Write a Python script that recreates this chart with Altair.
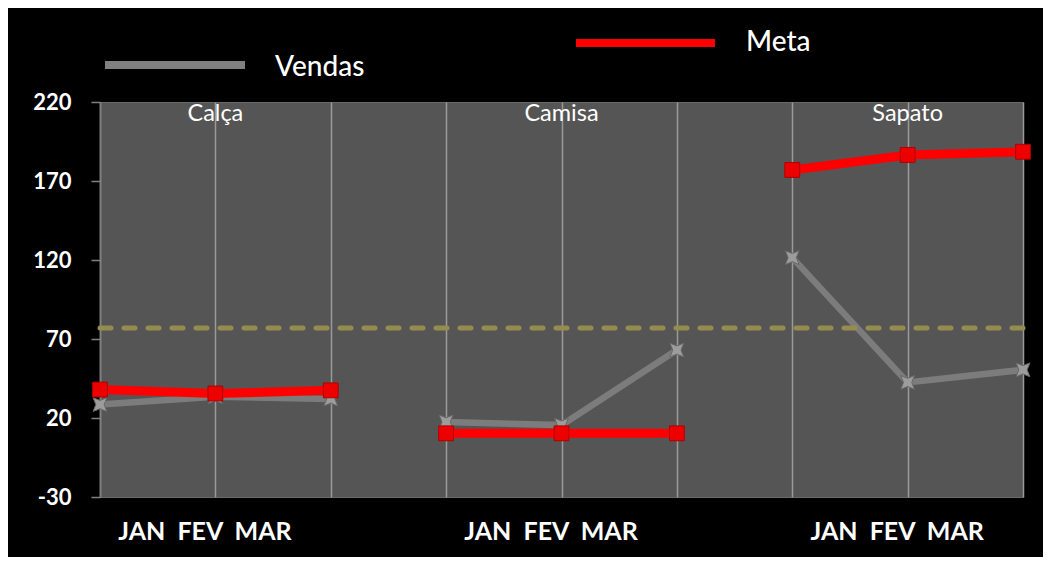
import altair as alt
import pandas as pd

produtos = ["Calça", "Camisa", "Sapato"]
meses = ["JAN", "FEV", "MAR"]
vendas = [28.5, 33.5, 32, 17.5, 15.5, 63, 121.5, 42.5, 50.5]
meta = [38, 35.5, 37.5, 10.3, 10.3, 10.3, 177, 186.5, 188.5]
referencia = 77
y_ticks = [-30, 20, 70, 120, 170, 220]

rows = []
ordem = []
for i, p in enumerate(produtos):
    for j, m in enumerate(meses):
        k = i * 3 + j
        chave = f"{p} {m}"
        ordem.append(chave)
        rows.append(dict(produto=p, mes=m, chave=chave, serie="Vendas", valor=vendas[k]))
        rows.append(dict(produto=p, mes=m, chave=chave, serie="Meta", valor=meta[k]))
df = pd.DataFrame(rows)
df_rot = pd.DataFrame({"produto": produtos, "chave": [f"{p} FEV" for p in produtos]})
df_ref = pd.DataFrame({"ref": [referencia]})

FONT = "Lato"
NB = "\u00a0"
rotulo_meses = (NB + " ").join(meses)

x = alt.X(
    "chave:O",
    sort=ordem,
    scale=alt.Scale(type="point", padding=0),
    axis=alt.Axis(
        title=None,
        labelExpr="indexof(datum.value, 'FEV') >= 0 ? '" + rotulo_meses + "' : ''",
        labelAngle=0,
        labelOverlap=False,
        labelOffset=-11,
        labelPadding=22,
        labelFont=FONT,
        labelFontSize=25,
        labelFontWeight="bold",
        labelColor="white",
        ticks=False,
        domain=False,
        grid=True,
        gridColor="#9a9a9a",
        gridWidth=1.5,
    ),
)
y = alt.Y(
    "valor:Q",
    scale=alt.Scale(domain=[-30, 220], nice=False, zero=False),
    axis=alt.Axis(
        title=None,
        values=y_ticks,
        grid=False,
        labelExpr="'' + datum.value",
        labelFont=FONT,
        labelFontSize=22,
        labelFontWeight="bold",
        labelColor="white",
        labelPadding=20,
        tickColor="#808080",
        tickSize=9,
        tickWidth=1.5,
        domainColor="#808080",
        domainWidth=1.5,
    ),
)

base = alt.Chart(df)
star = "M-1,-1L0,-0.6L1,-1L0.6,0L1,1L0,0.6L-1,1L-0.6,0Z"

vendas_linha = base.transform_filter("datum.serie == 'Vendas'").mark_line(
    color="#7c7c7c", strokeWidth=6.5
).encode(x=x, y=y, detail="produto:N")
vendas_pts = base.transform_filter("datum.serie == 'Vendas'").mark_point(
    shape=star, filled=True, color="#9c9c9c", stroke="#686868", strokeWidth=1, size=190, opacity=1
).encode(x=x, y=y)

ref = alt.Chart(df_ref).mark_rule(
    color="#978c4f", strokeWidth=5, strokeDash=[11, 13], strokeCap="round"
).encode(y=alt.Y("ref:Q"))

meta_linha = base.transform_filter("datum.serie == 'Meta'").mark_line(
    color="#ff0000", strokeWidth=9
).encode(x=x, y=y, detail="produto:N")
meta_pts = base.transform_filter("datum.serie == 'Meta'").mark_square(
    color="#ec0000", stroke="#b00000", strokeWidth=1, size=220, opacity=1
).encode(x=x, y=y)

rotulos = alt.Chart(df_rot).mark_text(
    color="white", font=FONT, fontSize=23.5, baseline="middle", align="center"
).encode(x=x, y=alt.value(12), text="produto:N")

leg_v_line = alt.Chart(df_ref).mark_rule(color="#808080", strokeWidth=8).encode(
    x=alt.value(5), x2=alt.value(145), y=alt.value(-37)
)
leg_v_txt = alt.Chart(df_ref).mark_text(
    text="Vendas", color="white", font=FONT, fontSize=28, fontWeight=500, align="left", baseline="middle"
).encode(x=alt.value(175), y=alt.value(-34))
leg_m_line = alt.Chart(df_ref).mark_rule(color="#ff0000", strokeWidth=8).encode(
    x=alt.value(476), x2=alt.value(615), y=alt.value(-59)
)
leg_m_txt = alt.Chart(df_ref).mark_text(
    text="Meta", color="white", font=FONT, fontSize=28, fontWeight=500, align="left", baseline="middle"
).encode(x=alt.value(646), y=alt.value(-59))

chart = alt.layer(
    vendas_linha, vendas_pts, ref, meta_linha, meta_pts, rotulos,
    leg_v_line, leg_v_txt, leg_m_line, leg_m_txt,
).properties(
    width=923,
    height=395,
    background="black",
    padding={"left": 92, "top": 94, "right": 20, "bottom": 60},
    autosize=alt.AutoSizeParams(type="none"),
).configure_view(
    fill="#555555", stroke="#6a6a6a", strokeWidth=1
)

chart.save("out.html", embed_options={"renderer": "svg", "actions": False})
